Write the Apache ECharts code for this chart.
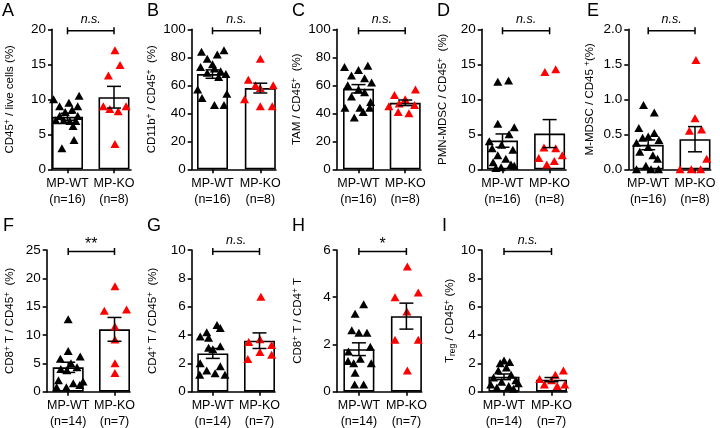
<!DOCTYPE html>
<html><head><meta charset="utf-8">
<script src="https://cdn.jsdelivr.net/npm/echarts@6/dist/echarts.min.js"></script>
<style>html,body{margin:0;padding:0;background:#fff}#c{width:720px;height:428px}</style>
</head><body><div id="c"></div>
<script>
// ---------------- DATA ----------------
const panelLetters = ['A','B','C','D','E','F','G','H','I'];
const groupNames = ['MP-WT','MP-KO'];
const nWT = [16,16,16,16,16,14,14,14,14];
const nKO = [8,8,8,8,8,7,7,7,7];
const yMax = [20,100,100,20,2,25,10,6,10];
const yStep = [5,20,20,5,0.5,5,2,2,2];
const sigLabels = ['n.s.','n.s.','n.s.','n.s.','n.s.','**','n.s.','*','n.s.'];
const yTitles = [
  'CD45{sup|+} / live cells (%)',
  'CD11b{sup|+} / CD45{sup|+}  (%)',
  'TAM / CD45{sup|+}  (%)',
  'PMN-MDSC / CD45{sup|+}  (%)',
  'M-MDSC / CD45 {sup|+}(%)',
  'CD8{sup|+} T / CD45{sup|+}  (%)',
  'CD4{sup|+} T / CD45{sup|+}  (%)',
  'CD8{sup|+} T / CD4{sup|+} T',
  'T{sub|reg} / CD45{sup|+} (%)'
];
const meanWT = [7.5, 68, 57.5, 4.1, 0.35, 4.3, 2.7, 1.8, 1.05];
const semWT  = [0.5, 3, 3, 0.95, 0.07, 0.9, 0.35, 0.27, 0.2];
const meanKO = [10.3, 58, 47.5, 5.1, 0.43, 11.0, 3.6, 3.2, 0.85];
const semKO  = [1.55, 3.5, 2, 2.0, 0.18, 2.1, 0.55, 0.55, 0.15];

const wtA = [10.0,10.5,9.5,9.0,9.0,8.5,8.2,7.6,7.6,7.0,6.9,6.9,6.2,7.0,4.2,3.0];
const koA = [17.0,14.9,13.4,9.0,9.0,8.6,8.3,3.6];
const wtB = [84,85,82,79,75,73,72,70,69,68,66,57,54,51,46,46];
const koB = [79,64,60,58,60,50,45,45];
const wtC = [73,74,71,67,65,62,60,57,55,52,48,44,44,44,41,37];
const koC = [57,53,50,47,46,45,41,40];
const wtD = [12.5,12.7,6.5,6.0,5.0,4.0,3.5,3.0,2.8,2.0,1.5,1.0,0.7,0.5,0.3,0.2];
const koD = [13.9,14.3,3.1,3.0,2.0,1.6,1.2,0.7];
const wtE = [0.92,0.81,0.59,0.52,0.47,0.45,0.42,0.38,0.32,0.25,0.20,0.15,0.05,0.0,0.0,0.0];
const koE = [1.56,0.73,0.55,0.57,0.15,0.0,0.0,0.0];
const wtF = [12.8,7.2,6.2,5.8,5.0,4.3,4.0,3.8,2.0,1.8,1.5,1.2,0.8,0.8];
const koF = [18.6,14.3,14.5,11.5,9.2,5.0,3.3];
const wtG = [4.7,4.5,4.2,3.9,3.8,3.2,3.0,3.1,2.0,1.8,1.5,1.3,1.2,1.2];
const koG = [6.7,3.5,3.7,3.3,2.8,2.6,2.3];
const wtH = [3.7,3.3,2.6,2.5,2.5,1.7,1.9,1.4,1.3,1.2,1.2,0.8,0.3,0.3];
const koH = [5.3,4.0,4.2,3.4,2.2,2.2,0.9];
const wtI = [2.2,2.0,2.1,1.7,1.5,1.2,1.0,0.8,0.7,0.6,0.5,0.4,0.3,0.2];
const koI = [1.5,1.2,0.9,0.8,0.5,0.4,0.5];

// horizontal scatter (jitter) of each point, in group widths
const jwA = [-0.30,0.25,0.03,-0.17,0.22,0.10,-0.05,-0.17,0.22,-0.08,0.05,0.18,0.12,-0.25,0.14,-0.12];
const jkA = [0.02,0.13,-0.12,-0.23,0.26,-0.09,0.09,0.02];
const jwB = [-0.23,0.24,0.10,-0.11,0.0,-0.25,0.04,0.17,-0.11,0.28,0.13,-0.31,0.30,-0.22,0.04,0.24];
const jkB = [0.0,-0.25,-0.1,0.0,0.27,-0.33,0.25,0.0];
const jwC = [-0.30,0.20,0.0,-0.15,0.13,0.28,-0.23,0.0,0.13,-0.15,0.26,-0.29,0.03,0.24,0.10,-0.09];
const jkC = [0.22,-0.23,0.0,-0.13,0.20,-0.35,-0.15,0.08];
const jwD = [-0.10,0.13,-0.10,0.25,0.14,-0.28,-0.02,-0.22,0.22,-0.10,0.07,-0.20,0.18,0.25,-0.03,-0.14];
const jkD = [-0.10,0.13,-0.12,0.13,0.27,-0.23,0.10,-0.06];
const jwE = [-0.10,0.13,-0.20,0.13,0.0,-0.12,0.23,-0.25,0.0,-0.18,0.10,0.20,-0.05,-0.25,0.06,0.22];
const jkE = [0.02,0.0,-0.12,0.14,0.25,-0.32,-0.08,0.12];
const jwF = [0.0,0.0,0.26,-0.17,0.06,0.19,-0.16,-0.03,-0.21,0.32,0.11,0.25,-0.04,-0.25];
const jkF = [0.01,-0.22,0.26,0.01,0.01,0.01,0.01];
const jwG = [0.09,0.16,-0.13,-0.27,-0.09,0.16,0.0,-0.09,-0.27,0.16,-0.13,0.05,-0.28,0.26];
const jkG = [0.03,-0.23,0.01,0.26,0.01,0.26,-0.25];
const jwH = [0.10,-0.08,-0.15,0.17,0.0,-0.22,0.24,0.03,-0.23,-0.11,0.26,-0.08,-0.09,0.10];
const jkH = [0.02,-0.24,0.25,0.01,-0.24,0.25,0.02];
const jwI = [0.0,-0.08,0.12,0.05,-0.12,0.15,-0.22,0.25,-0.05,0.30,-0.28,0.10,-0.15,0.20];
const jkI = [0.25,0.08,-0.25,0.0,-0.15,0.12,0.28];

const wtVals = [wtA,wtB,wtC,wtD,wtE,wtF,wtG,wtH,wtI];
const koVals = [koA,koB,koC,koD,koE,koF,koG,koH,koI];
const wtJit = [jwA,jwB,jwC,jwD,jwE,jwF,jwG,jwH,jwI];
const koJit = [jkA,jkB,jkC,jkD,jkE,jkF,jkG,jkH,jkI];

// ---------------- LAYOUT ----------------
const FF = '"Liberation Sans", Arial, Helvetica, sans-serif';
const layout = [
  {l:52,    wt:67.5,  ko:114,   r:131,   t:29.3, b:169.3, gap:35, lx:2,   ly:2},
  {l:191.7, wt:212.5, ko:260.3, r:276,   t:29.3, b:169.3, gap:31.5, lx:147, ly:2},
  {l:336.7, wt:358.5, ko:405.2, r:421,   t:29.3, b:169.3, gap:31.5, lx:292, ly:2},
  {l:481.7, wt:502.5, ko:549.6, r:566,   t:29.3, b:169.3, gap:31.5, lx:437, ly:2},
  {l:628.3, wt:648.2, ko:695,   r:710.7, t:29.3, b:169.3, gap:31.5, lx:587, ly:2},
  {l:46.7,  wt:68.2,  ko:114.5, r:130,   t:250,  b:391.7, gap:29.5, lx:3,   ly:217},
  {l:191.7, wt:212.8, ko:259.5, r:275,   t:250,  b:391.7, gap:31.5, lx:147, ly:217},
  {l:336.7, wt:358.9, ko:406.4, r:421.7, t:250,  b:391.7, gap:31.5, lx:292, ly:217},
  {l:481.7, wt:504,   ko:551.5, r:567,   t:250,  b:391.7, gap:24.5, lx:442, ly:217}
];

const option = {animation:false, backgroundColor:'#ffffff', title:[], grid:[], xAxis:[], yAxis:[], series:[]};
const axisLineStyle = {color:'#000', width:1.6};

layout.forEach((L, p) => {
  const unit = L.ko - L.wt;
  const xmin = 1 - (L.wt - L.l) / unit;
  const xmax = 2 + (L.r - L.ko) / unit;
  option.title.push({text: panelLetters[p], left: L.lx, top: L.ly, padding: 0,
    textStyle: {fontSize: 18, fontWeight: 'normal', color: '#000', fontFamily: FF}});
  option.grid.push({left: L.l, top: L.t, width: L.r - L.l, height: L.b - L.t, outerBoundsMode: 'none', containLabel: false});
  option.xAxis.push({
    gridIndex: p, type: 'value', min: xmin, max: xmax,
    axisLine: {show: true, onZero: false, lineStyle: axisLineStyle},
    splitLine: {show: false},
    axisTick: {show: true, customValues: [1, 2], length: 4, lineStyle: axisLineStyle},
    axisLabel: {customValues: [1, 2], color: '#000', fontSize: 12.5, lineHeight: 16, margin: 6, fontFamily: FF,
      formatter: v => { const i = Math.round(v) - 1; return groupNames[i] + '\n(n=' + (i === 0 ? nWT[p] : nKO[p]) + ')'; }}
  });
  option.yAxis.push({
    gridIndex: p, type: 'value', min: 0, max: yMax[p], interval: yStep[p],
    axisLine: {show: true, onZero: false, lineStyle: axisLineStyle},
    axisTick: {show: true, length: 4, lineStyle: axisLineStyle},
    splitLine: {show: false},
    axisLabel: {color: '#000', fontSize: 13.5, margin: 6, fontFamily: FF,
      formatter: v => (yStep[p] < 1 ? v.toFixed(1) : String(v))},
    name: yTitles[p], nameLocation: 'middle', nameRotate: 90, nameGap: L.gap,
    nameTextStyle: {color: '#000', fontSize: 11.5, lineHeight: 14, fontFamily: FF,
      rich: {sup: {fontSize: 8.5, lineHeight: 7.5, verticalAlign: 'top', color: '#000', fontFamily: FF},
             sub: {fontSize: 8.5, lineHeight: 7.5, verticalAlign: 'bottom', color: '#000', fontFamily: FF}}}
  });
  option.series.push({
    type: 'bar', xAxisIndex: p, yAxisIndex: p, barWidth: 31, z: 1,
    data: [[1, meanWT[p]], [2, meanKO[p]]],
    itemStyle: {color: '#fff', borderColor: '#000', borderWidth: 1.6}
  });
  option.series.push({
    type: 'scatter', xAxisIndex: p, yAxisIndex: p, symbol: 'triangle', symbolSize: [9, 8], z: 3,
    data: wtVals[p].map((v, i) => [1 + wtJit[p][i], v]), itemStyle: {color: '#000', opacity: 1}
  });
  option.series.push({
    type: 'scatter', xAxisIndex: p, yAxisIndex: p, symbol: 'triangle', symbolSize: [9, 8], z: 3,
    data: koVals[p].map((v, i) => [2 + koJit[p][i], v]), itemStyle: {color: '#ff0000', opacity: 1}
  });
  option.series.push({
    type: 'custom', xAxisIndex: p, yAxisIndex: p, z: 4,
    data: [[1, meanWT[p], semWT[p]], [2, meanKO[p], semKO[p]]],
    renderItem: (params, api) => {
      const x = api.value(0), m = api.value(1), s = api.value(2);
      const a = api.coord([x, m + s]), b = api.coord([x, m - s]);
      const c = 7, st = {stroke: '#000', lineWidth: 1.5};
      return {type: 'group', children: [
        {type: 'line', shape: {x1: a[0], y1: a[1], x2: b[0], y2: b[1]}, style: st},
        {type: 'line', shape: {x1: a[0] - c, y1: a[1], x2: a[0] + c, y2: a[1]}, style: st},
        {type: 'line', shape: {x1: b[0] - c, y1: b[1], x2: b[0] + c, y2: b[1]}, style: st}
      ]};
    }
  });
  option.series.push({
    type: 'custom', xAxisIndex: p, yAxisIndex: p, z: 5, clip: false,
    data: [[1, 2, yMax[p]]],
    renderItem: (params, api) => {
      const a = api.coord([api.value(0), api.value(2)]);
      const b = api.coord([api.value(1), api.value(2)]);
      const y = a[1] + 1.5, st = {stroke: '#000', lineWidth: 1.5};
      const lab = sigLabels[p];
      const isStar = lab.indexOf('*') >= 0;
      return {type: 'group', children: [
        {type: 'line', shape: {x1: a[0], y1: y, x2: b[0], y2: y}, style: st},
        {type: 'line', shape: {x1: a[0], y1: y - 3.5, x2: a[0], y2: y + 3.5}, style: st},
        {type: 'line', shape: {x1: b[0], y1: y - 3.5, x2: b[0], y2: y + 3.5}, style: st},
        {type: 'text', x: (a[0] + b[0]) / 2, y: isStar ? y - 7 : y - 11,
          style: {text: lab, fill: '#000', align: 'center', verticalAlign: 'middle',
            font: (isStar ? 'normal 16px ' : 'italic 12.5px ') + FF}}
      ]};
    }
  });
});

const chart = echarts.init(document.getElementById('c'), null, {renderer: 'canvas'});
chart.setOption(option);
</script></body></html>
